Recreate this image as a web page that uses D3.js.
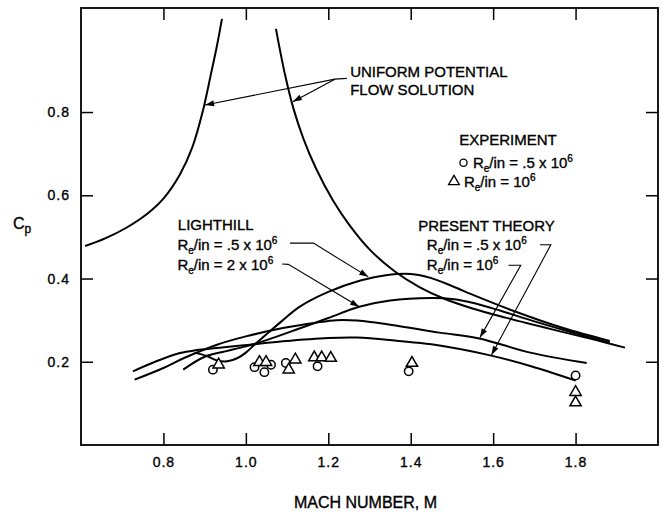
<!DOCTYPE html>
<html>
<head>
<meta charset="utf-8">
<script src="https://cdn.jsdelivr.net/npm/d3@7"></script>
<style>
  body { margin: 0; background: #fff; }
  svg { display: block; }
  text { font-family: "Liberation Sans", Arial, sans-serif; fill: #000; stroke: #000; stroke-width: 0.35px; }
</style>
</head>
<body>
<div id="chart"></div>
<script>
const w = 662;
const h = 514;

// curves, [mach, cp]
const potentialLeft = [[0.61,0.478],[0.66,0.497],[0.71,0.522],[0.76,0.555],[0.80,0.592],[0.84,0.65],[0.87,0.715],[0.895,0.80],[0.915,0.89],[0.93,0.96],[0.942,1.024]];
const potentialRight = [[1.073,1.0],[1.095,0.89],[1.115,0.81],[1.14,0.735],[1.17,0.665],[1.21,0.59],[1.25,0.53],[1.3,0.47],[1.36,0.418],[1.42,0.38],[1.48,0.352],[1.55,0.328],[1.63,0.306],[1.75,0.276],[1.85,0.252],[1.92,0.234]];
const lighthillLow = [[0.875,0.222],[0.905,0.214],[0.93,0.203],[0.955,0.201],[0.98,0.209],[1.0,0.222],[1.02,0.24],[1.05,0.266],[1.09,0.3],[1.13,0.332],[1.2,0.368],[1.28,0.396],[1.34,0.408],[1.4,0.411],[1.45,0.401],[1.5,0.382],[1.56,0.357],[1.65,0.322],[1.77,0.281],[1.883,0.25]];
const lighthillHigh = [[0.848,0.181],[0.9,0.212],[0.95,0.225],[1.0,0.237],[1.05,0.252],[1.13,0.28],[1.2,0.305],[1.275,0.332],[1.35,0.347],[1.45,0.353],[1.5,0.351],[1.55,0.342],[1.62,0.322],[1.7,0.297],[1.79,0.271],[1.883,0.246]];
const theoryLow = [[0.726,0.177],[0.78,0.2],[0.84,0.221],[0.88,0.228],[0.93,0.233],[1.01,0.241],[1.09,0.249],[1.2,0.257],[1.27,0.258],[1.37,0.25],[1.45,0.242],[1.59,0.216],[1.69,0.19],[1.8,0.155]];
const theoryHigh = [[0.73,0.157],[0.8,0.185],[0.85,0.209],[0.93,0.241],[1.0,0.261],[1.09,0.281],[1.17,0.294],[1.22,0.3],[1.27,0.299],[1.37,0.286],[1.47,0.27],[1.566,0.256],[1.69,0.222],[1.827,0.197]];

// experiment
const expCircles = [[0.92,0.181],[1.021,0.187],[1.045,0.175],[1.061,0.193],[1.097,0.197],[1.174,0.189],[1.395,0.177],[1.8,0.167]];
const expTriangles = [[0.934,0.193],[1.033,0.199],[1.049,0.199],[1.104,0.181],[1.12,0.205],[1.166,0.21],[1.184,0.21],[1.206,0.209],[1.403,0.197],[1.8,0.127],[1.8,0.102]];

const xTicks = [0.8, 1.0, 1.2, 1.4, 1.6, 1.8];
const yTicks = [0.2, 0.4, 0.6, 0.8];

const svg = d3.select("#chart").append("svg")
  .attr("width", w).attr("height", h);

const x = d3.scaleLinear().domain([0.6, 2.0]).range([81, 658]);
const y = d3.scaleLinear().domain([0, 1.05]).range([445, 8]);

// frame
svg.append("rect")
  .attr("x", x(0.6)).attr("y", y(1.05))
  .attr("width", x(2.0) - x(0.6)).attr("height", y(0) - y(1.05))
  .attr("fill", "none").attr("stroke", "#000").attr("stroke-width", 1.8);

// ticks, inward on all four sides
const tk = 12;
svg.append("g").attr("transform", `translate(0,${y(0)})`)
  .call(d3.axisBottom(x).tickValues(xTicks).tickSize(-tk).tickPadding(12).tickFormat(d3.format(".1f")))
  .call(g => g.select(".domain").remove());
svg.append("g").attr("transform", `translate(0,${y(1.05)})`)
  .call(d3.axisTop(x).tickValues(xTicks).tickSize(-tk).tickFormat(""))
  .call(g => g.select(".domain").remove());
svg.append("g").attr("transform", `translate(${x(0.6)},0)`)
  .call(d3.axisLeft(y).tickValues(yTicks).tickSize(-tk).tickPadding(11).tickFormat(d3.format(".1f")))
  .call(g => g.select(".domain").remove());
svg.append("g").attr("transform", `translate(${x(2.0)},0)`)
  .call(d3.axisRight(y).tickValues(yTicks).tickSize(-tk).tickFormat(""))
  .call(g => g.select(".domain").remove());

svg.selectAll(".tick line").attr("stroke", "#000").attr("stroke-width", 1.5);
svg.selectAll(".tick text")
  .style("font-family", "'Liberation Sans', Arial, sans-serif")
  .style("font-size", "14px").style("letter-spacing", "1px")
  .attr("fill", "#000").attr("stroke", "#000").attr("stroke-width", 0.3);

// curves
const line = d3.line().x(d => x(d[0])).y(d => y(d[1])).curve(d3.curveCatmullRom.alpha(0.5));
[potentialLeft, potentialRight, lighthillLow, lighthillHigh, theoryLow, theoryHigh].forEach(c => {
  svg.append("path").attr("d", line(c))
    .attr("fill", "none").attr("stroke", "#000").attr("stroke-width", 2);
});

// experiment symbols
svg.append("g").selectAll("circle").data(expCircles).enter().append("circle")
  .attr("cx", d => x(d[0])).attr("cy", d => y(d[1])).attr("r", 4.2)
  .attr("fill", "#fff").attr("stroke", "#000").attr("stroke-width", 1.5);
const tri = d3.symbol().type(d3.symbolTriangle).size(55);
svg.append("g").selectAll("path").data(expTriangles).enter().append("path")
  .attr("d", tri)
  .attr("transform", d => `translate(${x(d[0])},${y(d[1])})`)
  .attr("fill", "#fff").attr("stroke", "#000").attr("stroke-width", 1.5);

// leaders with arrowheads, points in data units
const leaders = [
  [[1.245,0.881],[1.216,0.879],[0.901,0.817]],
  [[1.216,0.879],[1.114,0.825]],
  [[1.107,0.485],[1.164,0.485],[1.297,0.404]],
  [[1.088,0.435],[1.103,0.434],[1.275,0.332]],
  [[1.714,0.481],[1.740,0.481],[1.596,0.216]],
  [[1.637,0.432],[1.667,0.432],[1.568,0.258]]
];
leaders.forEach(pts => {
  const p = pts.map(d => [x(d[0]), y(d[1])]);
  svg.append("path").attr("d", d3.line()(p))
    .attr("fill", "none").attr("stroke", "#000").attr("stroke-width", 1.1);
  const a = p[p.length - 2], b = p[p.length - 1];
  const ang = Math.atan2(b[1] - a[1], b[0] - a[0]);
  const L = 9, W = 3;
  const ux = Math.cos(ang), uy = Math.sin(ang);
  const head = [
    [b[0], b[1]],
    [b[0] - L * ux - W * uy, b[1] - L * uy + W * ux],
    [b[0] - L * ux + W * uy, b[1] - L * uy - W * ux]
  ];
  svg.append("path").attr("d", d3.line()(head) + "Z").attr("fill", "#000");
});

// annotation text
const labelFont = 15;
function label(u, v, parts, anchor) {
  const t = svg.append("text").attr("x", x(u)).attr("y", y(v))
    .attr("font-size", labelFont).attr("text-anchor", anchor || "start");
  parts.forEach(p => {
    const s = t.append("tspan").text(p[0]);
    if (p[1] === "sub") s.attr("font-size", 10).attr("baseline-shift", "-4");
    if (p[1] === "sup") s.attr("font-size", 10).attr("baseline-shift", "6");
  });
  return t;
}
const reLabel = (tail) => [["R"], ["e", "sub"], ["/in = " + tail]];

label(1.253, 0.884, [["UNIFORM POTENTIAL"]]);
label(1.253, 0.842, [["FLOW SOLUTION"]]);

label(1.636, 0.721, [["EXPERIMENT"]], "middle");
svg.append("circle").attr("cx", x(1.528)).attr("cy", y(0.678)).attr("r", 3.6)
  .attr("fill", "#fff").attr("stroke", "#000").attr("stroke-width", 1.3);
label(1.551, 0.666, reLabel(".5 x 10").concat([["6", "sup"]]));
svg.append("path").attr("d", d3.symbol().type(d3.symbolTriangle).size(50))
  .attr("transform", `translate(${x(1.505)},${y(0.633)})`)
  .attr("fill", "#fff").attr("stroke", "#000").attr("stroke-width", 1.3);
label(1.529, 0.620, reLabel("10").concat([["6", "sup"]]));

label(0.835, 0.517, [["LIGHTHILL"]]);
label(0.834, 0.469, reLabel(".5 x 10").concat([["6", "sup"]]));
label(0.834, 0.420, reLabel("2 x 10").concat([["6", "sup"]]));

label(1.418, 0.514, [["PRESENT THEORY"]]);
label(1.439, 0.469, reLabel(".5 x 10").concat([["6", "sup"]]));
label(1.439, 0.420, reLabel("10").concat([["6", "sup"]]));

// axis titles
svg.append("text").attr("x", (x(0.6) + x(2.0)) / 2 - 4).attr("y", 508)
  .attr("text-anchor", "middle").attr("font-size", 16).text("MACH NUMBER, M");
const cp = svg.append("text").attr("x", 13).attr("y", 229).attr("font-size", 16);
cp.append("tspan").text("C");
cp.append("tspan").text("p").attr("font-size", 12).attr("baseline-shift", "-4");
</script>
</body>
</html>
